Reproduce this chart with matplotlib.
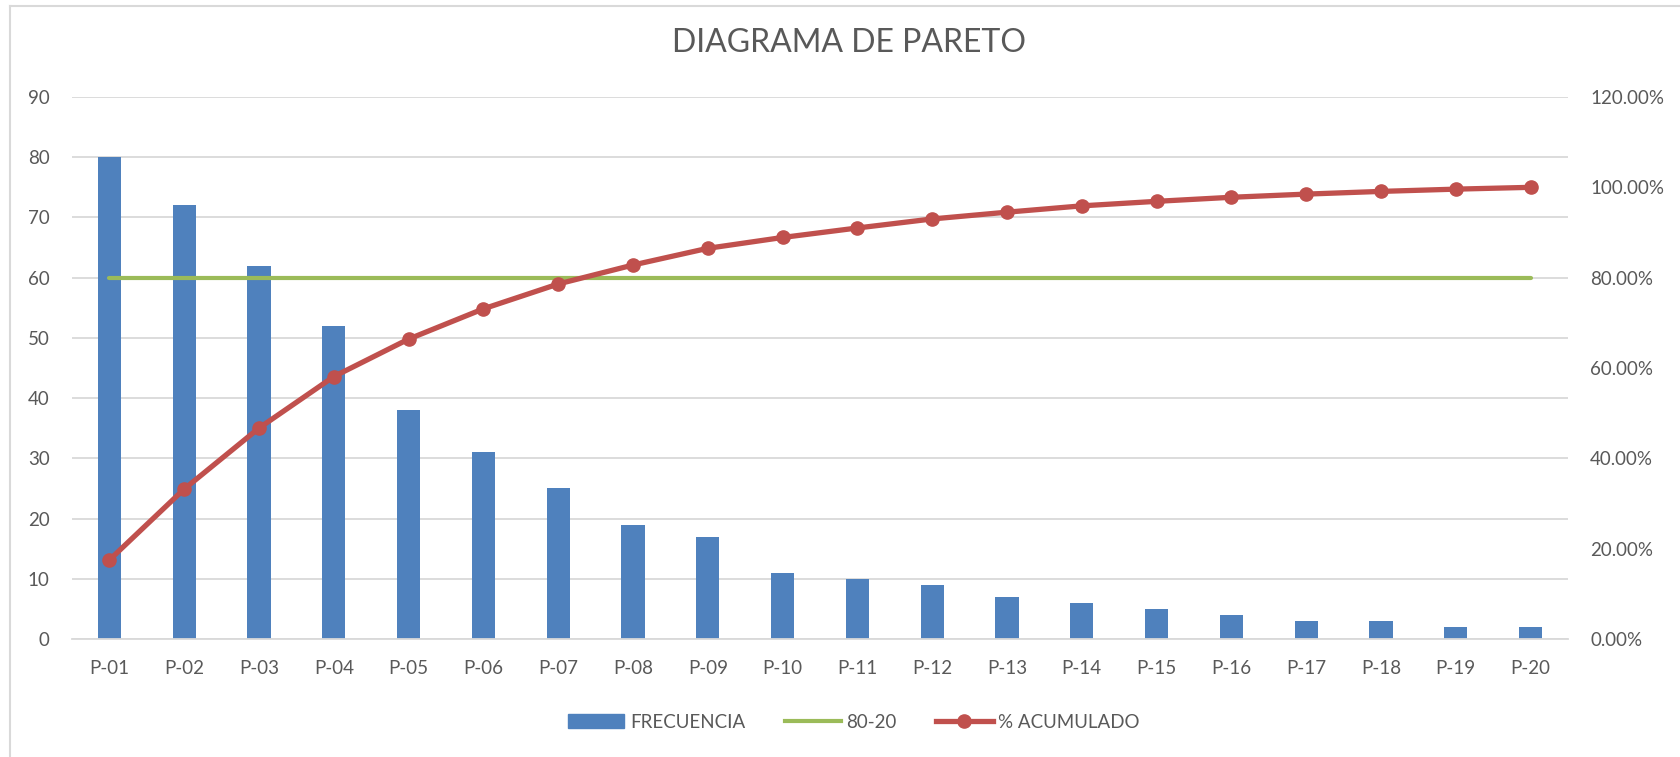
import matplotlib.pyplot as plt
from matplotlib.lines import Line2D
from matplotlib.ticker import FuncFormatter

plt.rcParams['font.family'] = ['Lato', 'DejaVu Sans']

categorias = ['P-01', 'P-02', 'P-03', 'P-04', 'P-05', 'P-06', 'P-07', 'P-08', 'P-09', 'P-10',
              'P-11', 'P-12', 'P-13', 'P-14', 'P-15', 'P-16', 'P-17', 'P-18', 'P-19', 'P-20']
frecuencia = [80, 72, 62, 52, 38, 31, 25, 19, 17, 11, 10, 9, 7, 6, 5, 4, 3, 3, 2, 2]
acumulado = [17.5, 33.2, 46.7, 58.1, 66.4, 73.1, 78.6, 82.8, 86.5, 88.9,
             91.0, 93.0, 94.5, 95.9, 96.9, 97.8, 98.5, 99.1, 99.6, 100.0]
linea_80_20 = [80] * 20

gris = '#595959'
grid_col = '#D9D9D9'

W, H = 1681, 757
fig = plt.figure(figsize=(W / 100, H / 100), dpi=100)
ax = fig.add_axes([72 / W, 1 - 639 / H, (1568 - 72) / W, (639 - 97) / H])
ax2 = ax.twinx()

x = list(range(len(categorias)))
ax.bar(x, frecuencia, width=0.31, color='#4F81BD', zorder=2)
ax2.plot(x, [v / 100 for v in linea_80_20], color='#9BBB59', lw=3, solid_capstyle='round', zorder=3)
ax2.plot(x, [v / 100 for v in acumulado], color='#C0504D', lw=3.8, marker='o', ms=9.5, zorder=4)

ax.set_xlim(-0.5, 19.5)
ax.set_ylim(0, 90)
ax2.set_ylim(0, 1.2)
ax.set_yticks(range(0, 91, 10))
ax2.set_yticks([0, 0.2, 0.4, 0.6, 0.8, 1.0, 1.2])
ax2.yaxis.set_major_formatter(FuncFormatter(lambda v, p: '%.2f%%' % (v * 100)))
ax.set_xticks(x)
ax.set_xticklabels(categorias)

ax.grid(axis='y', color=grid_col, lw=1.3, zorder=0)
ax.set_axisbelow(True)
for a in (ax, ax2):
    for s in a.spines.values():
        s.set_visible(False)
ax.spines['bottom'].set_visible(True)
ax.spines['bottom'].set_color(grid_col)
ax.spines['bottom'].set_linewidth(1.3)

ax.tick_params(axis='y', length=0, pad=16, labelsize=13.5, labelcolor=gris)
ax.tick_params(axis='x', length=0, pad=15, labelsize=13.5, labelcolor=gris)
ax2.tick_params(axis='y', length=0, pad=16, labelsize=13.5, labelcolor=gris)

fig.text(849 / W, 1 - 43 / H, 'DIAGRAMA DE PARETO', ha='center', va='center',
         fontsize=23, color=gris)

handles = [
    plt.Rectangle((0, 0), 1, 1, color='#4F81BD'),
    Line2D([], [], color='#9BBB59', lw=3),
    Line2D([], [], color='#C0504D', lw=3.8, marker='o', ms=9.5),
]
leg = fig.legend(handles, ['FRECUENCIA', '80-20', '% ACUMULADO'], ncol=3,
                 loc='center', bbox_to_anchor=(854 / W, 1 - 722 / H), frameon=False,
                 fontsize=13.5, handlelength=3.0, handletextpad=0.3, columnspacing=2.1,
                 numpoints=1)
for t in leg.get_texts():
    t.set_color(gris)

# chart border
fig.add_artist(Line2D([10 / W, 10 / W], [0, 1 - 6 / H], color=grid_col, lw=1.5,
                      transform=fig.transFigure))
fig.add_artist(Line2D([10 / W, 1], [1 - 6 / H, 1 - 6 / H], color=grid_col, lw=1.5,
                      transform=fig.transFigure))

fig.savefig('out.png', dpi=100)
